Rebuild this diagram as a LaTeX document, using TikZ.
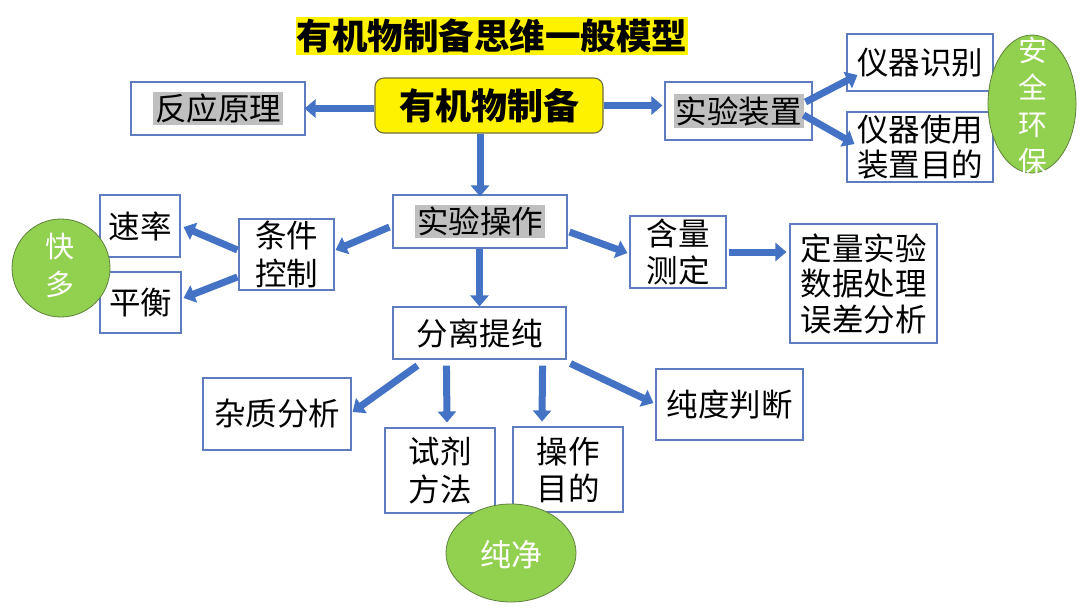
\documentclass[tikz,border=0pt]{standalone}
\usepackage{fontspec}
\setmainfont{Noto Sans CJK SC}
\usetikzlibrary{arrows.meta,calc,shapes.geometric}
\definecolor{arrblue}{RGB}{68,114,196}
\definecolor{boxblue}{RGB}{95,125,190}
\definecolor{hlgray}{RGB}{191,191,191}
\definecolor{leaf}{RGB}{146,208,80}
\definecolor{leafedge}{RGB}{95,130,60}
\definecolor{oliveedge}{RGB}{110,110,60}
\newcommand{\hlgr}[1]{{\setlength{\fboxsep}{2pt}\colorbox{hlgray}{#1}}}
\tikzset{
  box/.style={draw=boxblue, line width=1.1pt, fill=white, inner sep=0pt, align=center,
    font=\fontsize{31.5}{36}\selectfont},
  arr/.style={draw=arrblue, line width=7pt, -{Triangle[length=11pt,width=18pt]}},
  blob/.style={ellipse, draw=leafedge, line width=0.8pt, fill=leaf, inner sep=0pt},
  blobtext/.style={text=white, align=center, inner sep=0pt},
}
\begin{document}
\begin{tikzpicture}[x=1pt,y=-1pt]
\useasboundingbox[fill=white] (0,0) rectangle (1080,608);

% title
\node[fill=yellow, inner xsep=1pt, inner ysep=0pt, minimum height=38pt,
  font=\fontsize{35.5}{38}\bfseries\selectfont] (title) at (492,36) {有机物制备思维一般模型};

% top row
\node[box, draw=oliveedge, fill=yellow, rounded corners=9pt, minimum width=228pt, minimum height=55pt,
  font=\fontsize{36}{40}\bfseries\selectfont] (zhibei) at (489,105.5) {有机物制备};
\node[box, minimum width=174pt, minimum height=53pt] (yuanli) at (218,108.5) {\hlgr{反应原理}};
\node[box, minimum width=147pt, minimum height=58pt] (zhuangzhi) at (738.5,111) {\hlgr{实验装置}};
\node[box, minimum width=146pt, minimum height=57pt] (shibie) at (920,62.5) {仪器识别};
\node[box, minimum width=146pt, minimum height=70pt, font=\fontsize{31.5}{35}\selectfont] (shiyong) at (920,147) {仪器使用\\装置目的};

% middle row
\node[box, minimum width=174pt, minimum height=53pt] (caozuo) at (480,221.5) {\hlgr{实验操作}};
\node[box, minimum width=95pt, minimum height=71pt, font=\fontsize{31.5}{38}\selectfont] (tiaojian) at (286.5,254.5) {条件\\控制};
\node[box, minimum width=80pt, minimum height=62pt] (sulv) at (140,226) {速率};
\node[box, minimum width=81pt, minimum height=61pt] (pingheng) at (140.5,302.5) {平衡};
\node[box, minimum width=96pt, minimum height=72pt, font=\fontsize{31.5}{37}\selectfont] (hanliang) at (678,252) {含量\\测定};
\node[box, minimum width=147pt, minimum height=119pt, font=\fontsize{31.5}{35.5}\selectfont] (dingliang) at (863.5,283.5) {定量实验\\数据处理\\误差分析};

% lower rows
\node[box, minimum width=173pt, minimum height=52pt] (fenli) at (479.5,333) {分离提纯};
\node[box, minimum width=148pt, minimum height=72pt] (zazhi) at (277,414) {杂质分析};
\node[box, minimum width=110pt, minimum height=85pt, font=\fontsize{31.5}{38}\selectfont] (shiji) at (440,470.5) {试剂\\方法};
\node[box, minimum width=110pt, minimum height=85pt, font=\fontsize{31.5}{37}\selectfont] (mudi) at (568,469.5) {操作\\目的};
\node[box, minimum width=147pt, minimum height=71pt] (chundu) at (729.5,404.5) {纯度判断};

% arrows
\draw[arr] (yuanli.east -| zhibei.west) -- ([xshift=-1pt]yuanli.east);
\draw[arr] (zhibei.east) -- ([xshift=-2pt]zhibei.east -| zhuangzhi.west);
\draw[arr] (caozuo.north |- zhibei.south) -- ([yshift=-2pt]caozuo.north);
\draw[arr] ($(zhuangzhi.east)+(-7,-9)$) -- ($(shibie.west)+(11,12.5)$);
\draw[arr] ($(zhuangzhi.east)+(-9,4)$) -- ($(shiyong.west)+(8,-3)$);
\draw[arr] ($(caozuo.west)+(-3,5.5)$) -- ($(tiaojian.east)+(1,-4.5)$);
\draw[arr] ($(tiaojian.west)+(-1,-4.5)$) -- ($(sulv.east)+(3,1)$);
\draw[arr] ($(tiaojian.west)+(-1,22.5)$) -- ($(pingheng.east)+(2,-4.5)$);
\draw[arr] ($(caozuo.east)+(2,10.5)$) -- ($(hanliang.west)+(-2,1)$);
\draw[arr] ([xshift=2pt]hanliang.east) -- ([xshift=-3pt]hanliang.east -| dingliang.west);
\draw[arr] (fenli.north |- caozuo.south) -- (fenli.north);
\draw[arr] ($(fenli.south west)+(25,6)$) -- ($(zazhi.east)+(1,-2)$);
\draw[arr] ($(fenli.south west)+(54,6)$) -- ($(shiji.north)+(7,-5)$);
\draw[arr] ($(fenli.south east)+(-24,6)$) -- ($(mudi.north)+(-26,-5)$);
\draw[arr] ($(fenli.south east)+(4,4)$) -- ($(chundu.west)+(-2,-1.5)$);

% green blobs
\node[blob, minimum width=88pt, minimum height=138pt] (anquan) at (1032,104) {};
\node[blobtext, font=\fontsize{29}{37}\selectfont] (anquanT) at (1033,106) {安\\全\\环\\保};
\node[blob, minimum width=98pt, minimum height=98pt] (kuaiduo) at (61,268) {};
\node[blobtext, font=\fontsize{29}{38}\selectfont] (kuaiduoT) at (60,266) {快\\多};
\node[blob, minimum width=130pt, minimum height=98pt] (chunjing) at (511,553) {};
\node[blobtext, font=\fontsize{31}{36}\selectfont] (chunjingT) at (511,555) {纯净};
\end{tikzpicture}
\end{document}
